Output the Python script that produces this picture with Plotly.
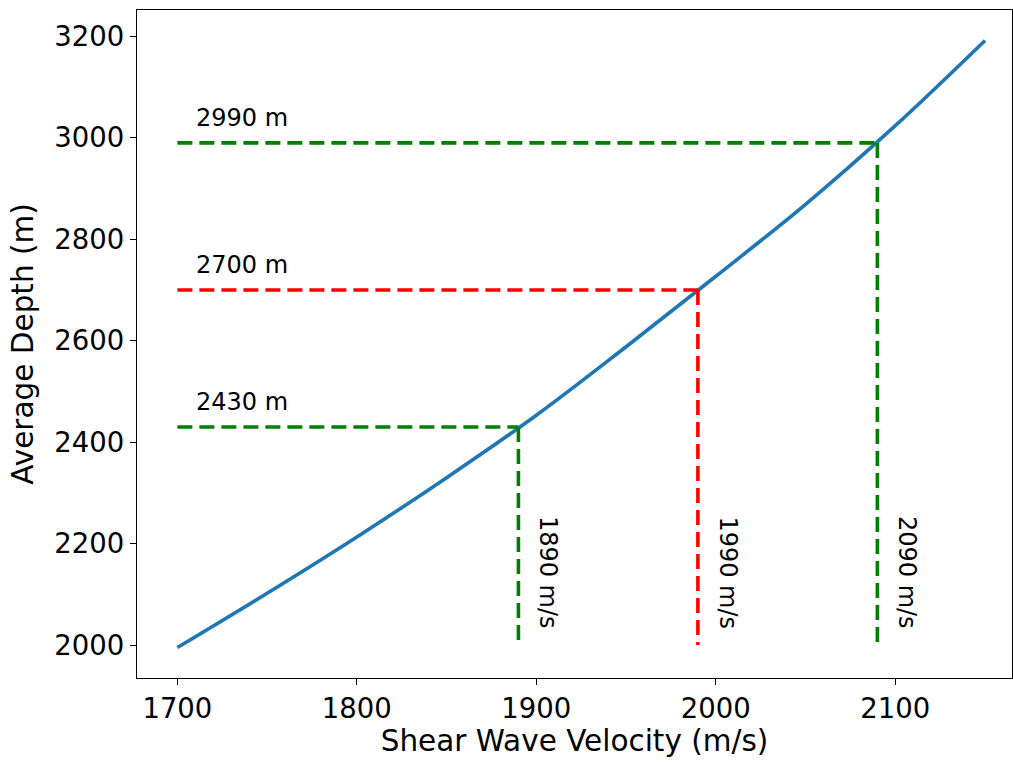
import plotly.graph_objects as go

# Shear wave velocity vs. average depth curve
velocity = [1700, 1750, 1800, 1850, 1900, 1950, 2000, 2050, 2100, 2150]
depth = [1995, 2102, 2213, 2330, 2453, 2588, 2727, 2869, 3024, 3192]

# Picked reference points (velocity, depth, colour)
pick_velocity = [1890, 1990, 2090]
pick_depth = [2430, 2700, 2990]
pick_colors = ["green", "red", "green"]
depth_labels = ["2430 m", "2700 m", "2990 m"]
velocity_labels = ["1890 m/s", "1990 m/s", "2090 m/s"]

x_start = 1700
y_base = 2000

fig = go.Figure()

fig.add_trace(go.Scatter(
    x=velocity, y=depth, mode="lines",
    line=dict(color="#1f77b4", width=3.6, shape="spline", smoothing=1.0),
    showlegend=False, hoverinfo="skip",
))

for v, d, c, dl, vl in zip(pick_velocity, pick_depth, pick_colors, depth_labels, velocity_labels):
    # horizontal guide from the left edge to the curve
    fig.add_trace(go.Scatter(
        x=[x_start, v], y=[d, d], mode="lines",
        line=dict(color=c, width=3.6, dash="15px,7px"),
        showlegend=False, hoverinfo="skip",
    ))
    # vertical guide from the curve down to the base depth
    fig.add_trace(go.Scatter(
        x=[v, v], y=[d, y_base], mode="lines",
        line=dict(color=c, width=3.6, dash="15px,7px"),
        showlegend=False, hoverinfo="skip",
    ))
    fig.add_annotation(
        x=x_start + 9, y=d + 18, text=dl, showarrow=False,
        xanchor="left", yanchor="bottom",
        font=dict(family="DejaVu Sans", size=24, color="black"),
    )
    fig.add_annotation(
        x=v + 8, y=2258, text=vl, showarrow=False, textangle=90,
        xanchor="left", yanchor="top",
        font=dict(family="DejaVu Sans", size=24, color="black"),
    )

axis_common = dict(
    showgrid=False, zeroline=False, showline=True, linecolor="black", linewidth=1.3,
    mirror=True, ticks="outside", ticklen=6, tickwidth=1.3, tickcolor="black",
    tickfont=dict(family="DejaVu Sans", size=27.5, color="black"),
)

fig.update_layout(
    width=1013, height=763,
    margin=dict(l=137, r=1, t=10, b=85),
    plot_bgcolor="white", paper_bgcolor="white",
    xaxis=dict(
        range=[1677.5, 2165], tickvals=[1700, 1800, 1900, 2000, 2100],
        title=dict(text="Shear Wave Velocity (m/s)", standoff=6,
                   font=dict(family="DejaVu Sans", size=29.5, color="black")),
        **axis_common,
    ),
    yaxis=dict(
        range=[1935, 3252], tickvals=[2000, 2200, 2400, 2600, 2800, 3000, 3200],
        title=dict(text="Average Depth (m)", standoff=12,
                   font=dict(family="DejaVu Sans", size=29.5, color="black")),
        **axis_common,
    ),
)

fig.write_html("out.html")
